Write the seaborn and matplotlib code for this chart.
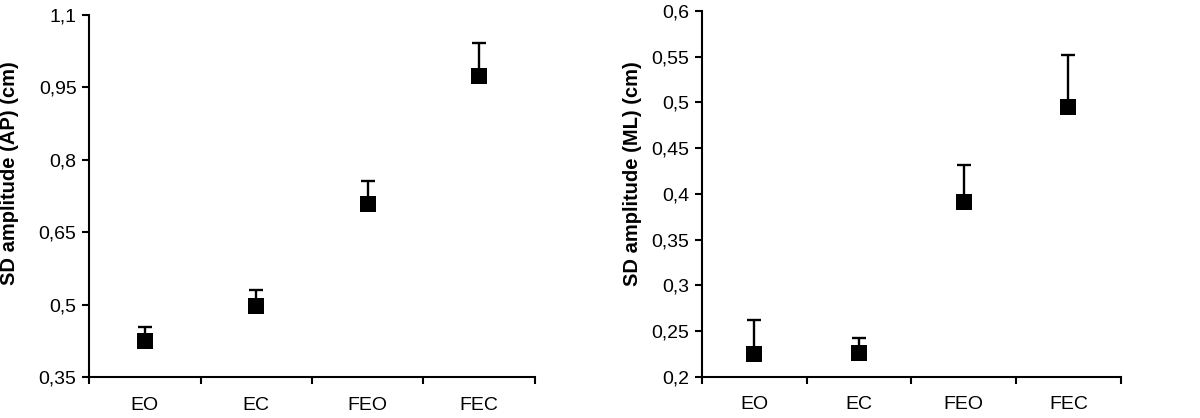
import matplotlib
matplotlib.use("Agg")
import matplotlib.pyplot as plt
import seaborn as sns
import pandas as pd

# data
conditions = ["EO", "EC", "FEO", "FEC"]
ap_mean = [0.426, 0.497, 0.708, 0.974]
ap_err = [0.027, 0.033, 0.048, 0.068]
ml_mean = [0.225, 0.226, 0.391, 0.495]
ml_err = [0.037, 0.016, 0.041, 0.057]

ap_ticks = [0.35, 0.5, 0.65, 0.8, 0.95, 1.1]
ap_labels = ["0,35", "0,5", "0,65", "0,8", "0,95", "1,1"]
ml_ticks = [0.2, 0.25, 0.3, 0.35, 0.4, 0.45, 0.5, 0.55, 0.6]
ml_labels = ["0,2", "0,25", "0,3", "0,35", "0,4", "0,45", "0,5", "0,55", "0,6"]

sns.set_style("ticks", {"text.color": "black", "xtick.color": "black",
                        "ytick.color": "black", "axes.labelcolor": "black",
                        "axes.edgecolor": "black"})
plt.rcParams["font.family"] = ["Liberation Sans", "DejaVu Sans"]

fig = plt.figure(figsize=(12, 4.18), dpi=100)
ax1 = fig.add_axes([0.0742, 0.0974, 0.3716, 0.8674])
ax2 = fig.add_axes([0.585, 0.0988, 0.349, 0.8749])


def draw(ax, means, errs, ticks, labels, ylabel, lab_x, lab_y):
    df = pd.DataFrame({"cond": conditions, "val": means})
    ax.errorbar(range(len(conditions)), means, yerr=[[0] * len(errs), errs],
                fmt="none", ecolor="black", elinewidth=1.7, capsize=5,
                capthick=1.7, zorder=2)
    sns.scatterplot(data=df, x="cond", y="val", marker="s", color="black",
                    s=125, edgecolor="black", linewidth=0, ax=ax, zorder=3)
    ax.set_xlim(-0.5, 3.5)
    ax.set_ylim(ticks[0], ticks[-1])
    ax.set_yticks(ticks)
    ax.set_yticklabels(labels, fontsize=14)
    ax.set_xticks([-0.5, 0.5, 1.5, 2.5, 3.5])
    ax.set_xticklabels([])
    ax.set_xticks(range(len(conditions)), minor=True)
    ax.set_xticklabels(conditions, minor=True, fontsize=14)
    ax.tick_params(axis="x", which="major", length=5, width=1.5, direction="out")
    ax.tick_params(axis="x", which="minor", length=0, pad=14)
    ax.tick_params(axis="y", length=5, width=1.5, direction="out", pad=4)
    ax.set_xlabel("")
    ax.set_ylabel(ylabel, fontsize=14.5, fontweight="bold")
    ax.yaxis.set_label_coords(lab_x, lab_y)
    for side in ["left", "bottom"]:
        ax.spines[side].set_linewidth(1.5)
        ax.spines[side].set_color("black")
    sns.despine(ax=ax)


draw(ax1, ap_mean, ap_err, ap_ticks, ap_labels, "SD amplitude (AP) (cm)", -0.157, 0.563)
draw(ax2, ml_mean, ml_err, ml_ticks, ml_labels, "SD amplitude (ML) (cm)", -0.143, 0.554)

fig.savefig("out.png", dpi=100)
